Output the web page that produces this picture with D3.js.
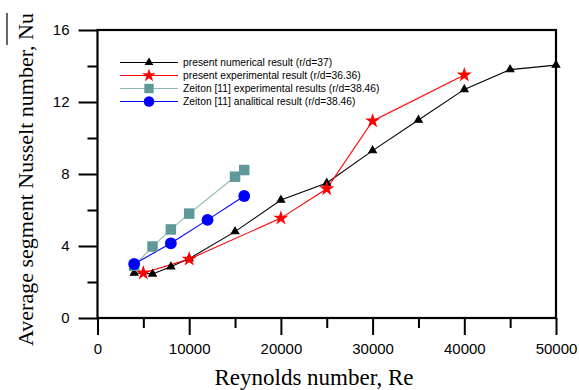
<!DOCTYPE html>
<html><head><meta charset="utf-8">
<script src="https://cdn.jsdelivr.net/npm/d3@7"></script>
<style>body{margin:0;background:#fff}svg{display:block}</style>
</head><body>
<svg id="c" width="579" height="390"></svg>
<script>
const xMajor = [0, 10000, 20000, 30000, 40000, 50000];
const xMinor = [5000, 15000, 25000, 35000, 45000];
const yMajor = [0, 4, 8, 12, 16];
const yMinor = [2, 6, 10, 14];

const numRe = [4000, 6000, 8000, 10000, 15000, 20000, 25000, 30000, 35000, 40000, 45000, 50000];
const numNu = [2.5, 2.45, 2.85, 3.3, 4.8, 6.55, 7.5, 9.3, 11.0, 12.7, 13.8, 14.05];
const expRe = [5000, 10000, 20000, 25000, 30000, 40000];
const expNu = [2.5, 3.27, 5.55, 7.18, 10.95, 13.5];
const zExpRe = [4000, 6000, 8000, 10000, 15000, 16000];
const zExpNu = [2.9, 3.97, 4.92, 5.8, 7.85, 8.22];
const zAnaRe = [4000, 8000, 12000, 16000];
const zAnaNu = [3.0, 4.15, 5.45, 6.78];

const legendLabels = [
  "present numerical result (r/d=37)",
  "present experimental result (r/d=36.36)",
  "Zeiton [11] experimental results (r/d=38.46)",
  "Zeiton [11] analitical result (r/d=38.46)"
];

const svg = d3.select("#c");
const L = 97.5, R = 556, T = 30, B = 318;
const x = d3.scaleLinear().domain([0, 50000]).range([L, R]);
const y = d3.scaleLinear().domain([0, 16]).range([B, T]);

const series = [
  {re: numRe, nu: numNu, line: "#000", sym: "tri", fill: "#000", size: 24},
  {re: expRe, nu: expNu, line: "#ff0000", sym: "star", fill: "#ff0000", size: 70},
  {re: zExpRe, nu: zExpNu, line: "#8fb9b9", sym: "sq", fill: "#5f9898", size: 110},
  {re: zAnaRe, nu: zAnaNu, line: "#0000ff", sym: "circ", fill: "#0000ff", size: 110}
];
const symType = {tri: d3.symbolTriangle, star: d3.symbolStar, sq: d3.symbolSquare, circ: d3.symbolCircle};

// axes
const gx = svg.append("g").attr("transform", `translate(0,${B})`);
gx.call(d3.axisBottom(x).tickValues(xMajor).tickSize(17).tickPadding(8).tickFormat(d3.format("d")));
const gx2 = svg.append("g").attr("transform", `translate(0,${B})`);
gx2.call(d3.axisBottom(x).tickValues(xMinor).tickSize(10).tickFormat(""));
const gy = svg.append("g").attr("transform", `translate(${L},0)`);
gy.call(d3.axisLeft(y).tickValues(yMajor).tickSize(19).tickPadding(9).tickFormat(d3.format("d")));
const gy2 = svg.append("g").attr("transform", `translate(${L},0)`);
gy2.call(d3.axisLeft(y).tickValues(yMinor).tickSize(10).tickFormat(""));
svg.selectAll(".domain").remove();
svg.selectAll(".tick line").attr("stroke", "#000").attr("stroke-width", 2);
svg.selectAll(".tick text").attr("font-family", "Liberation Sans, Arial, sans-serif").attr("font-size", 15).attr("fill", "#000");

// frame
svg.append("rect").attr("x", L).attr("y", T).attr("width", R - L).attr("height", B - T)
  .attr("fill", "none").attr("stroke", "#000").attr("stroke-width", 2.2);

// series
const line = d3.line();
series.forEach(s => {
  const pts = s.re.map((r, i) => [x(r), y(s.nu[i])]);
  svg.append("path").attr("d", line(pts)).attr("fill", "none").attr("stroke", s.line).attr("stroke-width", 1.1);
});
series.forEach(s => {
  const sym = d3.symbol().type(symType[s.sym]).size(s.size);
  s.re.forEach((r, i) => {
    svg.append("path").attr("d", sym())
      .attr("transform", `translate(${x(r)},${y(s.nu[i])})`)
      .attr("fill", s.fill).attr("stroke", s.sym === "tri" ? "#000" : "none").attr("stroke-width", 1.2);
  });
});

// legend
const lg = svg.append("g");
series.forEach((s, i) => {
  const yy = 62.5 + i * 13;
  lg.append("line").attr("x1", 120).attr("x2", 178).attr("y1", yy).attr("y2", yy)
    .attr("stroke", s.line).attr("stroke-width", 1.1);
  const sym = d3.symbol().type(symType[s.sym]).size(s.size * 0.8);
  lg.append("path").attr("d", sym()).attr("transform", `translate(149,${yy})`)
    .attr("fill", s.fill).attr("stroke", s.sym === "tri" ? "#000" : "none").attr("stroke-width", 1.2);
  lg.append("text").attr("x", 183).attr("y", yy + 3.6).text(legendLabels[i])
    .attr("font-family", "Liberation Sans, Arial, sans-serif").attr("font-size", 10.3).attr("fill", "#000");
});

// axis titles
svg.append("text").attr("x", 314).attr("y", 385).attr("text-anchor", "middle")
  .attr("font-family", "Liberation Serif, Times New Roman, serif").attr("font-size", 23)
  .text("Reynolds number, Re");
const yt = svg.append("text").attr("transform", "translate(33,13) rotate(-90)").attr("text-anchor", "end")
  .attr("font-family", "Liberation Serif, Times New Roman, serif").attr("font-size", 22)
  .text("Average segment Nusselt number, Nu");
// overline over "Nu"
const tn = yt.node();
const full = tn.getComputedTextLength();
const txt = tn.textContent;
const nuStart = tn.getSubStringLength(0, txt.length - 2);
const nuLen = tn.getSubStringLength(txt.length - 2, 2);
svg.append("line").attr("transform", "translate(33,13) rotate(-90)")
  .attr("x1", -full + nuStart - 5).attr("x2", -full + nuStart + nuLen)
  .attr("y1", -26).attr("y2", -26).attr("stroke", "#000").attr("stroke-width", 1.2);
</script>
</body></html>
